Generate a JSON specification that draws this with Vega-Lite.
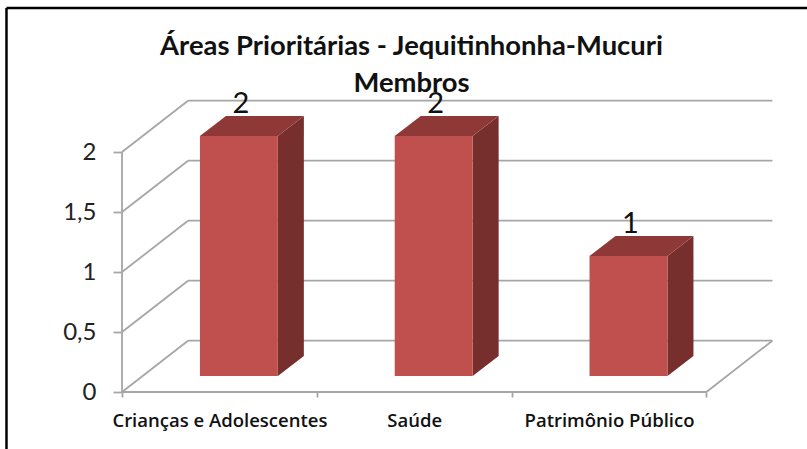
{
"$schema":"https://vega.github.io/schema/vega-lite/v6.json",
"width":807,"height":449,"padding":0,"autosize":{"type":"none"},
"background":"white",
"config":{"view":{"stroke":null},"axis":{"grid":false}},
"title":{"text":["Áreas Prioritárias - Jequitinhonha-Mucuri","Membros"],"anchor":"middle","frame":"group","font":"Lato","fontSize":27.4,"fontWeight":700,"color":"#111111","lineHeight":37,"offset":-97,"dx":8},
"datasets":{
"bars":[{"categoria":"Crianças e Adolescentes","pos":0,"valor":2},{"categoria":"Saúde","pos":1,"valor":2},{"categoria":"Patrimônio Público","pos":2,"valor":1}],
"ticks":[{"v":0},{"v":0.5},{"v":1},{"v":1.5},{"v":2}],
"one":[{"id":1}]
},
"layer":[
{"data":{"name":"ticks"},"transform":[{"calculate":"datum.v+0.4275","as":"yb"}],
 "mark":{"type":"rule","color":"#A6A6A6","strokeWidth":1.8},
 "encoding":{
  "x":{"datum":0.3388,"type":"quantitative","scale":{"domain":[-0.6263,3.5164],"nice":false,"zero":false},
   "axis":{"values":[0,1,2,3],"title":null,"domain":false,"offset":-57,"tickSize":5,"tickColor":"#A6A6A6","tickWidth":1.8,"labelPadding":14,"labelOffset":97.4,"labelFont":"Open Sans","labelFontSize":18.5,"labelFontWeight":600,"labelColor":"#111111","labelFlush":false,"labelOverlap":false,"labelLimit":400,"labelExpr":"datum.value==0?'Crianças e Adolescentes':datum.value==1?'Saúde':datum.value==2?'Patrimônio Público':''"}},
  "x2":{"datum":3.3388},
  "y":{"field":"yb","type":"quantitative","scale":{"domain":[-0.475,3.2667],"nice":false,"zero":false},
   "axis":{"values":[0,0.5,1,1.5,2],"title":null,"domain":false,"offset":-122,"tickSize":9,"tickColor":"#A6A6A6","tickWidth":1.8,"labelPadding":17,"labelFont":"Lato","labelFontSize":24,"labelColor":"#222222","labelOverlap":false,"labelExpr":"replace(toString(datum.value),'.',',')"}}
 }},
{"data":{"name":"ticks"},"transform":[{"calculate":"datum.v+0.4275","as":"yb"}],
 "mark":{"type":"rule","color":"#A6A6A6","strokeWidth":1.8},
 "encoding":{"x":{"datum":0},"x2":{"datum":0.3388},"y":{"field":"v","type":"quantitative"},"y2":{"field":"yb"}}},
{"data":{"name":"one"},"mark":{"type":"rule","color":"#A6A6A6","strokeWidth":1.8},
 "encoding":{"x":{"datum":3},"x2":{"datum":3.3388},"y":{"datum":0},"y2":{"datum":0.4275}}},
{"data":{"name":"one"},"mark":{"type":"rule","color":"#A6A6A6","strokeWidth":2},
 "encoding":{"x":{"datum":0},"x2":{"datum":3},"y":{"datum":0}}},
{"data":{"name":"one"},"mark":{"type":"rule","color":"#A6A6A6","strokeWidth":1.8},
 "encoding":{"x":{"datum":0},"y":{"datum":0},"y2":{"datum":2}}},
{"data":{"name":"bars"},
 "transform":[{"calculate":"[0,1]","as":"d"},{"flatten":["d"]},
  {"calculate":"datum.pos+0.8+datum.d*0.1335","as":"xs"},
  {"calculate":"0.1333+datum.d*0.1667","as":"ys0"},
  {"calculate":"datum.valor+0.1333+datum.d*0.1667","as":"ys1"}],
 "mark":{"type":"area","color":"#772F2D","line":false},
 "encoding":{"x":{"field":"xs","type":"quantitative"},"y":{"field":"ys0","type":"quantitative"},"y2":{"field":"ys1"},"detail":{"field":"categoria"}}},
{"data":{"name":"bars"},
 "transform":[{"calculate":"[0,1]","as":"d"},{"flatten":["d"]},
  {"calculate":"datum.pos+0.4+datum.d*0.1335","as":"xa"},
  {"calculate":"datum.pos+0.8+datum.d*0.1335","as":"xb"},
  {"calculate":"datum.valor+0.1333+datum.d*0.1667","as":"yt"}],
 "mark":{"type":"area","orient":"horizontal","color":"#8E3937"},
 "encoding":{"y":{"field":"yt","type":"quantitative"},"x":{"field":"xa","type":"quantitative"},"x2":{"field":"xb"},"detail":{"field":"categoria"}}},
{"data":{"name":"bars"},
 "transform":[{"calculate":"datum.pos+0.4","as":"xa"},{"calculate":"datum.pos+0.8","as":"xb"},{"calculate":"datum.valor+0.1333","as":"yt"},{"calculate":"0.1333","as":"yz"}],
 "mark":{"type":"rect","color":"#C0504D"},
 "encoding":{"x":{"field":"xa","type":"quantitative"},"x2":{"field":"xb"},"y":{"field":"yz","type":"quantitative"},"y2":{"field":"yt"}}},
{"data":{"name":"bars"},
 "transform":[{"calculate":"datum.pos+0.61","as":"xl"},{"calculate":"datum.valor+0.325","as":"yl"}],
 "mark":{"type":"text","font":"Lato","fontSize":29,"color":"#111111","baseline":"alphabetic","align":"center"},
 "encoding":{"x":{"field":"xl","type":"quantitative"},"y":{"field":"yl","type":"quantitative"},"text":{"field":"valor","type":"quantitative"}}},
{"data":{"name":"one"},"mark":{"type":"rule","color":"#000000","strokeWidth":2.5},
 "encoding":{"x":{"datum":-0.593},"y":{"datum":-0.475},"y2":{"datum":3.2}}},
{"data":{"name":"one"},"mark":{"type":"rule","color":"#000000","strokeWidth":2.5},
 "encoding":{"x":{"datum":-0.593},"x2":{"datum":3.5164},"y":{"datum":3.2}}}
]
}
